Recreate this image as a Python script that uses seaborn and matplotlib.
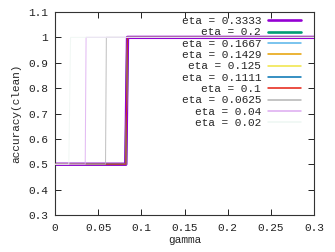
"""
Accuracy (clean) vs gamma for several eta values, gnuplot-like step curves
"""

import pandas as pd
import matplotlib
matplotlib.use("Agg")
import matplotlib.pyplot as plt
import seaborn as sns

# Data
ETA_LABELS = ["0.3333", "0.2", "0.1667", "0.1429", "0.125",
              "0.1111", "0.1", "0.0625", "0.04", "0.02"]
# last gamma where accuracy is still 0.5, first gamma where it is 1.0
GAMMA_LOW = [0.082, 0.082, 0.082, 0.082, 0.082, 0.082, 0.082, 0.0585, 0.035, 0.016]
GAMMA_HIGH = [0.084, 0.084, 0.084, 0.084, 0.084, 0.084, 0.084, 0.0595, 0.036, 0.018]
GAMMA_RANGE = [0.0, 0.3]
ACC_LEVELS = [0.5, 1.0]

X_TICKS = [0, 0.05, 0.1, 0.15, 0.2, 0.25, 0.3]
X_TICK_LABELS = ["0", "0.05", "0.1", "0.15", "0.2", "0.25", "0.3"]
Y_TICKS = [0.3, 0.4, 0.5, 0.6, 0.7, 0.8, 0.9, 1.0, 1.1]
Y_TICK_LABELS = ["0.3", "0.4", "0.5", "0.6", "0.7", "0.8", "0.9", "1", "1.1"]

# Styling
COLORS = ["#9400d3", "#009e73", "#56b4e9", "#e69f00", "#f0e442",
          "#0072b2", "#e51e10", "#b4b4b4", "#dcaaf0", "#eef6f2"]
WIDTHS = [2.4, 1.9, 0.75, 0.75, 0.75, 0.75, 0.75, 0.75, 0.75, 0.75]
ALPHAS = [1.0, 1.0, 0.8, 0.8, 0.8, 0.8, 0.8, 0.8, 0.8, 0.8]
# purple sits above green; thin curves on top of both
ZORDERS = [2.1, 2.0, 2.2, 2.3, 2.4, 2.5, 2.6, 2.7, 2.8, 2.9]
LEGEND_WIDTHS = [1.9, 1.9, 1.1, 1.1, 1.1, 1.1, 1.1, 1.1, 1.1, 1.1]


def build_frame():
    rows = []
    for eta, lo, hi in zip(ETA_LABELS, GAMMA_LOW, GAMMA_HIGH):
        rows.append((eta, GAMMA_RANGE[0], ACC_LEVELS[0]))
        rows.append((eta, lo, ACC_LEVELS[0]))
        rows.append((eta, hi, ACC_LEVELS[1]))
        rows.append((eta, GAMMA_RANGE[1], ACC_LEVELS[1]))
    return pd.DataFrame(rows, columns=["eta", "gamma", "accuracy"])


def main():
    sns.set_theme(style="ticks")
    plt.rcParams["font.family"] = ["Liberation Mono", "DejaVu Sans Mono"]
    plt.rcParams["font.size"] = 8

    df = build_frame()

    fig = plt.figure(figsize=(3.35, 2.52), dpi=100)
    ax = fig.add_axes([55 / 335, 1 - 215 / 252, 259 / 335, 203 / 252])

    for eta, color, lw, a, z in zip(ETA_LABELS, COLORS, WIDTHS, ALPHAS, ZORDERS):
        sub = df[df["eta"] == eta]
        sns.lineplot(data=sub, x="gamma", y="accuracy", ax=ax, color=color,
                     linewidth=lw, alpha=a, sort=False, estimator=None,
                     label=f"eta = {eta}", zorder=z)

    ax.set_xlim(0, 0.3)
    ax.set_ylim(0.3, 1.1)
    ax.set_xticks(X_TICKS)
    ax.set_xticklabels(X_TICK_LABELS)
    ax.set_yticks(Y_TICKS)
    ax.set_yticklabels(Y_TICK_LABELS)
    ax.tick_params(direction="in", top=True, right=True, length=4, width=0.7,
                   labelsize=8, colors="#222222")
    ax.tick_params(axis="x", pad=6)
    ax.tick_params(axis="y", pad=5)
    for spine in ax.spines.values():
        spine.set_color("#333333")
        spine.set_linewidth(0.8)

    ax.set_xlabel("gamma", fontsize=8, labelpad=1)
    ax.set_ylabel("accuracy(clean)", fontsize=8, labelpad=5)

    leg = ax.legend(loc="upper right", bbox_to_anchor=(0.95, 0.98), frameon=False,
                    markerfirst=False, fontsize=8, handlelength=3.0,
                    handletextpad=0.6, labelspacing=0.12, borderpad=0,
                    borderaxespad=0)
    for handle, lw in zip(leg.get_lines(), LEGEND_WIDTHS):
        handle.set_linewidth(lw)
        handle.set_alpha(1.0)

    fig.savefig("out.png", dpi=100, facecolor="white")
    plt.close(fig)


if __name__ == "__main__":
    main()
